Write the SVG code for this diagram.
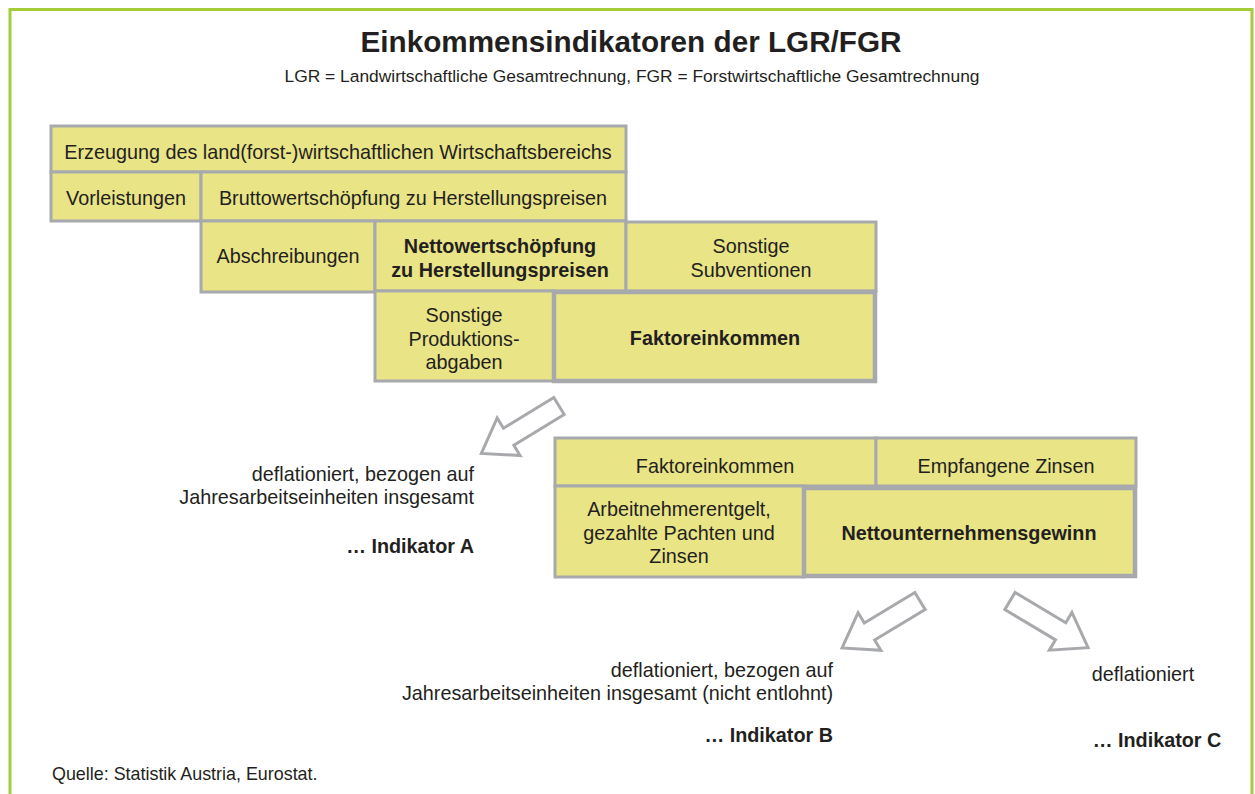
<svg xmlns="http://www.w3.org/2000/svg" width="1255" height="794" viewBox="0 0 1255 794">
<style>
text{font-family:"Liberation Sans",Arial,sans-serif;fill:#231f20}
.t{font-size:19.8px}
.c{text-anchor:middle}
.r{text-anchor:end}
.b{font-weight:bold}
.box{fill:#e9e486;stroke:#a7a9ac;stroke-width:3}
.thick{fill:#e9e486;stroke:#a7a9ac;stroke-width:4.5}
.arr{fill:#fff;stroke:#a7a9ac;stroke-width:3;stroke-linejoin:miter}
</style>
<defs>
<path id="ah" d="M0,-10 L59,-10 L59,-22 L91,0 L59,22 L59,10 L0,10 Z"/>
</defs>
<rect x="0" y="0" width="1255" height="794" fill="#fff"/>
<rect x="10" y="9.5" width="1242" height="800" fill="none" stroke="#a4cd39" stroke-width="3"/>
<text x="631" y="52" class="c b" font-size="29.7">Einkommensindikatoren der LGR/FGR</text>
<text x="632" y="82" class="c" font-size="17.4">LGR = Landwirtschaftliche Gesamtrechnung, FGR = Forstwirtschaftliche Gesamtrechnung</text>

<g id="erzeugung"><rect class="box" x="51" y="126" width="575" height="46"/><text class="t c" x="338" y="159">Erzeugung des land(forst-)wirtschaftlichen Wirtschaftsbereichs</text></g>
<g id="vorleistungen"><rect class="box" x="51" y="172" width="150" height="49"/><text class="t c" x="126" y="205">Vorleistungen</text></g>
<g id="brutto"><rect class="box" x="201" y="172" width="425" height="49"/><text class="t c" x="413" y="205">Bruttowertschöpfung zu Herstellungspreisen</text></g>
<g id="abschreibungen"><rect class="box" x="201" y="221" width="174" height="71"/><text class="t c" x="288" y="263">Abschreibungen</text></g>
<g id="netto"><rect class="box" x="375" y="221" width="251" height="70"/><text class="t c b" x="500" y="253">Nettowertschöpfung</text><text class="t c b" x="500" y="277">zu Herstellungspreisen</text></g>
<g id="subventionen"><rect class="box" x="626" y="222" width="250" height="69"/><text class="t c" x="751" y="253">Sonstige</text><text class="t c" x="751" y="277">Subventionen</text></g>
<g id="produktionsabgaben"><rect class="box" x="375" y="291" width="179" height="90"/><text class="t c" x="464" y="322">Sonstige</text><text class="t c" x="464" y="346">Produktions-</text><text class="t c" x="464" y="369">abgaben</text></g>
<g id="faktoreinkommen1"><rect class="thick" x="554" y="292" width="321" height="89"/><text class="t c b" x="715" y="345">Faktoreinkommen</text></g>

<g id="faktoreinkommen2"><rect class="box" x="555" y="438" width="321" height="48"/><text class="t c" x="715" y="473">Faktoreinkommen</text></g>
<g id="zinsen"><rect class="box" x="876" y="438" width="260" height="48"/><text class="t c" x="1006" y="473">Empfangene Zinsen</text></g>
<g id="arbeitnehmer"><rect class="box" x="555" y="486" width="249" height="91"/><text class="t c" x="679" y="516">Arbeitnehmerentgelt,</text><text class="t c" x="679" y="540">gezahlte Pachten und</text><text class="t c" x="679" y="563">Zinsen</text></g>
<g id="nettounternehmensgewinn"><rect class="thick" x="804" y="488" width="331" height="88"/><text class="t c b" x="969" y="540">Nettounternehmensgewinn</text></g>

<g id="connectors">
<use href="#ah" class="arr" transform="translate(559,406) rotate(148.6)"/>
<use href="#ah" class="arr" transform="translate(920,601) rotate(148.9)"/>
<use href="#ah" class="arr" transform="translate(1010,601) rotate(30.9)"/>
</g>

<g id="indikatorA"><text class="t r" x="474" y="481">deflationiert, bezogen auf</text><text class="t r" x="474" y="504">Jahresarbeitseinheiten insgesamt</text><text class="t r b" x="474" y="553">… Indikator A</text></g>
<g id="indikatorB"><text class="t r" x="833" y="677">deflationiert, bezogen auf</text><text class="t r" x="833" y="700">Jahresarbeitseinheiten insgesamt (nicht entlohnt)</text><text class="t r b" x="833" y="742">… Indikator B</text></g>
<g id="indikatorC"><text class="t c" x="1143" y="681">deflationiert</text><text class="t c b" x="1157" y="747">… Indikator C</text></g>
<text x="52" y="780" font-size="17.9">Quelle: Statistik Austria, Eurostat.</text>
</svg>
